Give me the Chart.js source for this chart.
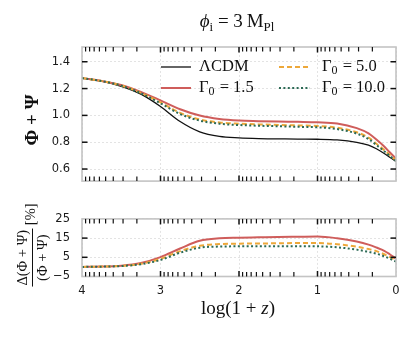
<!DOCTYPE html>
<html><head><meta charset="utf-8">
<script src="https://cdn.jsdelivr.net/npm/chart.js@4"></script>
<style>
body{margin:0;background:#fff;}
#wrap{position:relative;width:415px;height:338px;overflow:hidden;font-family:"Liberation Serif",serif;color:#111;}
canvas{position:absolute;left:0;}
#c1{top:0;} #c2{top:200px;}
.lbl{position:absolute;white-space:nowrap;transform:translate(-50%,-50%);line-height:1;}
.rot{transform:translate(-50%,-50%) rotate(-90deg);}
.s{font-size:68%;position:relative;top:0.28em;}
.frac{display:inline-flex;flex-direction:column;align-items:center;vertical-align:middle;}
.num{border-bottom:1px solid #111;padding:0 1px 2px;}
.den{padding-top:2px;}
</style></head><body>
<div id="wrap">
<canvas id="c1" width="415" height="200"></canvas>
<canvas id="c2" width="415" height="138"></canvas>
<div class="lbl" style="left:237px;top:20px;font-size:19px"><i>ϕ</i><span class="s">i</span> = 3&#8201;M<span class="s">Pl</span></div>
<div class="lbl rot" style="left:31px;top:120px;font-size:19px;font-weight:bold">Φ + Ψ</div>
<div class="lbl rot" style="left:32px;top:245px;font-size:14.5px"><span class="frac"><span class="num">Δ(Φ + Ψ)</span><span class="den">(Φ + Ψ)</span></span>&nbsp;[%]</div>
<div class="lbl" style="left:238px;top:307px;font-size:19px">log(1 + <i>z</i>)</div>
</div>
<script>
// ---- data ----
const logZ = [4.0,3.75,3.5,3.25,3.0,2.75,2.5,2.25,2.0,1.75,1.5,1.25,1.0,0.75,0.5,0.35,0.25,0.15,0.08,0.0];
const phiLCDM = [1.278,1.255,1.216,1.158,1.066,0.954,0.877,0.843,0.832,0.827,0.825,0.823,0.822,0.817,0.799,0.778,0.751,0.716,0.688,0.656];
const phiG15  = [1.278,1.257,1.226,1.175,1.112,1.046,0.999,0.973,0.961,0.957,0.954,0.952,0.949,0.940,0.905,0.866,0.820,0.768,0.725,0.677];
const phiG50  = [1.278,1.256,1.223,1.168,1.097,1.019,0.970,0.947,0.938,0.933,0.929,0.925,0.921,0.908,0.874,0.834,0.789,0.741,0.706,0.664];
const phiG100 = [1.278,1.256,1.222,1.165,1.090,1.010,0.961,0.938,0.928,0.923,0.919,0.915,0.911,0.898,0.864,0.824,0.779,0.733,0.699,0.661];
const dG15  = [0,0.15,0.6,2.0,5.1,9.6,13.6,14.9,15.2,15.4,15.6,15.7,15.8,14.9,13.2,11.6,10.1,8.4,6.6,4.3];
const dG50  = [0,0.15,0.5,1.6,4.2,8.2,11.0,11.9,12.1,12.2,12.3,12.4,12.4,11.8,10.5,9.3,8.2,6.6,5.2,3.6];
const dG100 = [0,0.12,0.45,1.4,3.6,7.4,10.0,10.6,10.7,10.7,10.7,10.7,10.7,10.2,9.0,7.8,6.9,5.5,4.3,2.8];
const seriesLabels = ['ΛCDM','Γ₀ = 1.5','Γ₀ = 5.0','Γ₀ = 10.0'];
const xTicks = [4,3,2,1,0];
const yTicksTop = [0.6,0.8,1.0,1.2,1.4];
const yTicksBottom = [-5,5,15,25];
// minor ticks of log-spaced (1+z)
const minorTicks = [];
for (let n=0;n<4;n++) for (let k=2;k<=9;k++) minorTicks.push(n+Math.log10(k));

const colors = {lcdm:'#111111', g15:'#cf5d5b', g50:'#eda83a', g100:'#2c6a55'};
const pts = arr => logZ.map((x,i)=>({x, y:arr[i]}));

function mkDs(label, arr, key){
  const base = {label, data:pts(arr), borderColor:colors[key], backgroundColor:colors[key], fill:false, pointRadius:0, borderWidth:2, cubicInterpolationMode:'monotone'};
  if (key==='lcdm'){ base.borderWidth=1.3; base.order=3; }
  if (key==='g15'){ base.order=2; }
  if (key==='g50'){ base.borderDash=[5,3]; base.order=1; }
  if (key==='g100'){ base.borderDash=[2,2.4]; base.order=0; }
  return base;
}

const frameTicks = {
  id:'frameTicks',
  afterDatasetsDraw(chart, args, opts){
    const {ctx, chartArea:{left,right,top,bottom}, scales:{x,y}} = chart;
    const line=(a,b,c,d)=>{ctx.beginPath();ctx.moveTo(a,b);ctx.lineTo(c,d);ctx.stroke();};
    ctx.save();
    ctx.setLineDash([]);
    ctx.strokeStyle='#c4c4c4'; ctx.lineWidth=1.6;
    ctx.strokeRect(left,top,right-left,bottom-top);
    ctx.strokeStyle='#111';
    ctx.lineWidth=1.5;
    xTicks.forEach(v=>{const p=x.getPixelForValue(v); if(p<=left+1||p>=right-1) return; line(p,top,p,top+5.5); line(p,bottom,p,bottom-5.5);});
    ctx.lineWidth=1.2;
    minorTicks.forEach(v=>{const p=x.getPixelForValue(v); line(p,top,p,top+4.5); line(p,bottom,p,bottom-4.5);});
    ctx.lineWidth=1.5;
    opts.yTicks.forEach(v=>{const p=y.getPixelForValue(v); if(p<=top+1||p>=bottom-1) return; line(left,p,left+5.5,p); line(right,p,right-5.5,p);});
    ctx.restore();
  }
};

function drawRich(ctx, text, x, y, size){
  const parts = text.split('₀');
  let cx = x;
  ctx.textBaseline='middle'; ctx.textAlign='left';
  parts.forEach((p,i)=>{
    ctx.font = size+'px "Liberation Serif"';
    ctx.fillText(p, cx, y); cx += ctx.measureText(p).width;
    if (i<parts.length-1){
      ctx.font = Math.round(size*0.7)+'px "Liberation Serif"';
      ctx.fillText('0', cx, y+4); cx += ctx.measureText('0').width+1;
    }
  });
}

const legendPlugin = {
  id:'customLegend',
  afterDraw(chart, args, opts){
    const {ctx, chartArea:{left,top}} = chart;
    const cols=[{s:79,e:109,t:117},{s:197,e:228,t:240}];
    const rows=[20,41];
    ctx.save();
    chart.data.datasets.forEach((ds,i)=>{
      const c=cols[Math.floor(i/2)], r=rows[i%2];
      ctx.strokeStyle=ds.borderColor; ctx.lineWidth=ds.borderWidth; ctx.setLineDash(ds.borderDash||[]);
      ctx.beginPath(); ctx.moveTo(left+c.s, top+r); ctx.lineTo(left+c.e, top+r); ctx.stroke();
      ctx.setLineDash([]); ctx.fillStyle='#111';
      drawRich(ctx, ds.label, left+c.t, top+r, 16.5);
    });
    ctx.restore();
  }
};

const tickFont = {family:'"DejaVu Sans"', size:11.5};
const gridOpts = {color:'#dcdcdc', lineWidth:0.8, drawTicks:false};

function xScale(showLabels){
  return {type:'linear', min:0, max:4, reverse:true,
    afterBuildTicks:s=>{s.ticks=xTicks.map(v=>({value:v}));},
    ticks:{display:showLabels, padding:8, font:tickFont, color:'#1a1a1a', maxRotation:0, callback:v=>String(v)},
    grid:gridOpts, border:{display:false, dash:[2,2]},
    afterFit:s=>{s.height = showLabels ? 30 : 0;}};
}

new Chart(document.getElementById('c1'), {
  type:'line',
  data:{datasets:[mkDs(seriesLabels[0],phiLCDM,'lcdm'), mkDs(seriesLabels[1],phiG15,'g15'), mkDs(seriesLabels[2],phiG50,'g50'), mkDs(seriesLabels[3],phiG100,'g100')]},
  options:{responsive:false, animation:false, devicePixelRatio:1,
    layout:{padding:{left:42, top:47, right:19, bottom:8}},
    plugins:{legend:{display:false}, tooltip:{enabled:false}, frameTicks:{yTicks:yTicksTop}},
    scales:{
      x:xScale(false),
      y:{min:0.51, max:1.51,
        afterBuildTicks:s=>{s.ticks=yTicksTop.map(v=>({value:v}));},
        ticks:{padding:12, font:tickFont, color:'#1a1a1a', callback:v=>v.toFixed(1)},
        grid:gridOpts, border:{display:false, dash:[2,2]},
        afterFit:s=>{s.width=40;}}
    }},
  plugins:[frameTicks, legendPlugin]
});

new Chart(document.getElementById('c2'), {
  type:'line',
  data:{datasets:[mkDs(seriesLabels[1],dG15,'g15'), mkDs(seriesLabels[2],dG50,'g50'), mkDs(seriesLabels[3],dG100,'g100')]},
  options:{responsive:false, animation:false, devicePixelRatio:1,
    layout:{padding:{left:42, top:13.5, right:19, bottom:31.5}},
    plugins:{legend:{display:false}, tooltip:{enabled:false}, frameTicks:{yTicks:yTicksBottom}},
    scales:{
      x:xScale(true),
      y:{min:-5, max:25,
        afterBuildTicks:s=>{s.ticks=yTicksBottom.map(v=>({value:v}));},
        ticks:{padding:12, font:tickFont, color:'#1a1a1a', callback:v=>(v<0?'−'+Math.abs(v):String(v))},
        grid:gridOpts, border:{display:false, dash:[2,2]},
        afterFit:s=>{s.width=40;}}
    }},
  plugins:[frameTicks]
});
</script>
</body></html>
